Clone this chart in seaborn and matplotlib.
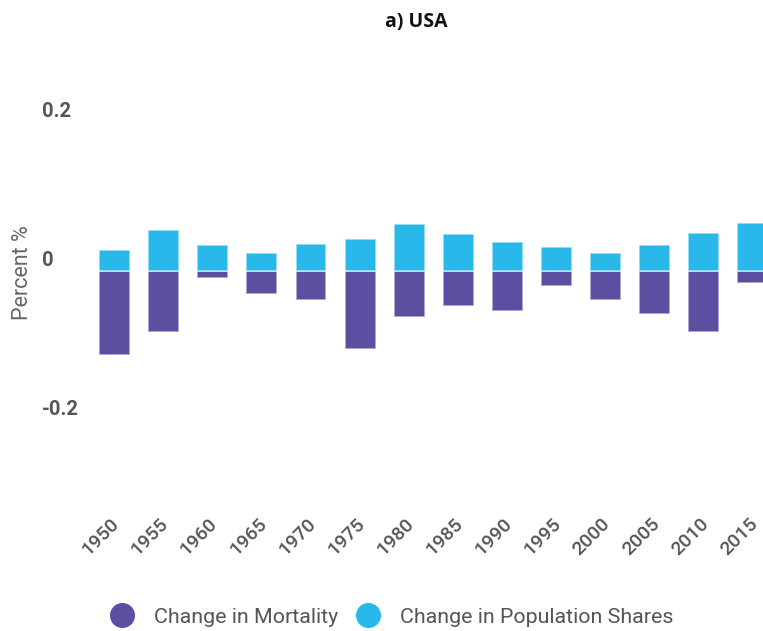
import matplotlib.pyplot as plt
import matplotlib.transforms as mtransforms
import pandas as pd
import seaborn as sns
from matplotlib.lines import Line2D

# values (percent)
years = ['1950', '1955', '1960', '1965', '1970', '1975', '1980',
         '1985', '1990', '1995', '2000', '2005', '2010', '2015']
mortality = [-0.114, -0.083, -0.0105, -0.031, -0.039, -0.105, -0.063,
             -0.048, -0.054, -0.021, -0.039, -0.059, -0.083, -0.017]
pop_shares = [0.027, 0.055, 0.034, 0.024, 0.036, 0.042, 0.062,
              0.049, 0.038, 0.031, 0.024, 0.034, 0.051, 0.064]
series_names = ['Change in Mortality', 'Change in Population Shares']
colors = ['#5A4FA0', '#29B8EA']

df = pd.DataFrame({
    'year': years * 2,
    'value': mortality + pop_shares,
    'series': [series_names[0]] * len(years) + [series_names[1]] * len(years),
})

sns.set_style('white')
plt.rcParams['font.family'] = ['Roboto', 'DejaVu Sans']

fig = plt.figure(figsize=(7.63, 6.31), dpi=100)
ax = fig.add_axes([0.118, 0.2407, 0.901, 0.6257])

sns.barplot(data=df, x='year', y='value', hue='series', dodge=False,
            palette=colors, saturation=1, width=0.63, order=years,
            hue_order=series_names, edgecolor=(1, 1, 1, 0.6), linewidth=1.2,
            legend=False, ax=ax)

ax.set_xlim(-0.5, 13.5)
ax.set_ylim(-0.28, 0.25)
sns.despine(ax=ax, left=True, bottom=True)
ax.set_xlabel('')
ax.set_ylabel('Percent %', fontsize=15.5, color='#666666')
ax.yaxis.set_label_coords(-0.083, 0.522)

ax.set_yticks([-0.2, 0, 0.2])
ax.set_yticklabels(['-0.2', '0', '0.2'])
ax.tick_params(axis='y', length=0, pad=34.5, labelsize=14.5, labelcolor='#555555')
ax.tick_params(axis='x', length=0, pad=30, labelsize=14, labelcolor='#555555')
for lab in ax.get_yticklabels():
    lab.set_horizontalalignment('left')
    lab.set_fontweight('bold')
    lab.set_transform(lab.get_transform() +
                      mtransforms.ScaledTranslation(0, 12 / 100, fig.dpi_scale_trans))
for lab in ax.get_xticklabels():
    lab.set_rotation(45)
    lab.set_horizontalalignment('right')
    lab.set_verticalalignment('center')
    lab.set_rotation_mode('anchor')
    lab.set_fontweight('medium')
    lab.set_transform(lab.get_transform() +
                      mtransforms.ScaledTranslation(2 / 100, 0, fig.dpi_scale_trans))

fig.text(0.545, 0.965, 'a) USA', ha='center', va='center', fontsize=14,
         fontweight='bold', family=['Open Sans', 'DejaVu Sans'], color='#111111')

handles = [Line2D([], [], marker='o', ls='', markersize=17, color=c) for c in colors]
fig.legend(handles, series_names, loc='center', bbox_to_anchor=(0.5146, 0.022),
           ncol=2, frameon=False, fontsize=15.4, labelcolor='#555555',
           handletextpad=1.0, columnspacing=0.9, handlelength=1.0)

fig.savefig('out.png', dpi=100)
